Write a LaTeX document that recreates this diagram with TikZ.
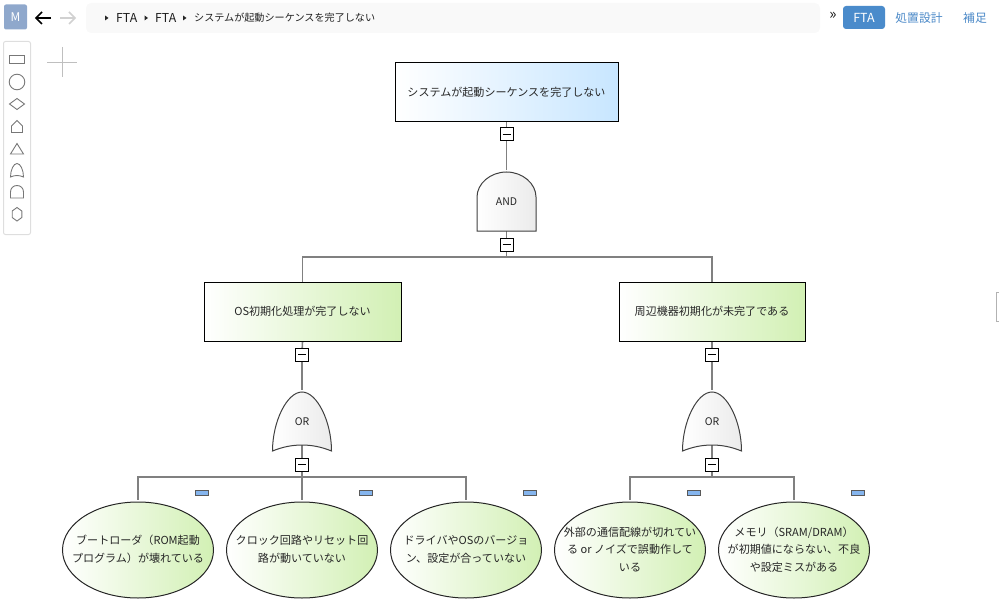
\documentclass[tikz,border=0pt]{standalone}
\usepackage{fontspec}
\setmainfont{Noto Sans CJK JP}
\usetikzlibrary{shapes.geometric,backgrounds,calc}
\definecolor{edgegray}{HTML}{808080}
\definecolor{blueend}{HTML}{C8E6FF}
\definecolor{greenend}{HTML}{D2F0B4}
\definecolor{gateend}{HTML}{EBEBEB}
\definecolor{tabblue}{HTML}{4A8BCB}
\definecolor{linkblue}{HTML}{4A88C7}
\definecolor{tagblue}{HTML}{85B5EE}
\definecolor{iconedge}{HTML}{777777}
\definecolor{avatarblue}{HTML}{8FA8CC}
\tikzset{
  x=1pt,y=-1pt,
  difftext/.style={font=\fontsize{11.05}{17.5}\selectfont,text=black!85,inner sep=0pt},
  topbox/.style={difftext,rectangle,draw=black,line width=1pt,left color=white,right color=blueend,minimum width=223,minimum height=59},
  midbox/.style={difftext,rectangle,draw=black,line width=1pt,left color=white,right color=greenend,minimum height=59},
  leaf/.style={difftext,ellipse,draw=black!85,line width=1pt,left color=white,right color=greenend,minimum width=151,minimum height=96},
  gatelabel/.style={font=\fontsize{10.5}{12}\selectfont,text=black!85,inner sep=0pt,minimum width=59,minimum height=59},
  gateline/.style={draw=black!75,line width=1pt,left color=white,right color=gateend},
  toggle/.style={rectangle,draw=black,line width=1pt,fill=white,minimum size=13,inner sep=0pt,
    path picture={\draw[black,line width=1pt] ($(path picture bounding box.west)+(2.5,0)$) -- ($(path picture bounding box.east)+(-2.5,0)$);}},
  tag/.style={rectangle,draw=black!65,line width=1pt,fill=tagblue,minimum width=13,minimum height=5,inner sep=0pt},
  edge/.style={draw=edgegray,line width=1.6pt},
  icon/.style={draw=iconedge,line width=.9pt},
  crumb/.style={font=\fontsize{12.3}{13}\selectfont,text=black!88,inner sep=0pt,anchor=west},
  tip/.style={fill=black!85,draw=none},
  navlink/.style={font=\fontsize{11.8}{13}\selectfont,text=linkblue,inner sep=0pt},
}
\newcommand{\leaftext}[1]{\hbox to 0pt{\hss\begin{tabular}{@{}c@{}}#1\end{tabular}\hss}}
\newcommand{\andshape}[2]{\path[gateline,shift={(#1,#2)}] (-29.5,29.5) -- (-29.5,-4.5) .. controls (-29.5,-18) and (-16,-29.5) .. (0,-29.5) .. controls (16,-29.5) and (29.5,-18) .. (29.5,-4.5) -- (29.5,29.5) -- cycle;}
\newcommand{\orshape}[2]{\path[gateline,shift={(#1,#2)}] (-29.5,29.5) .. controls (-29.5,0) and (-15,-29.5) .. (0,-29.5) .. controls (15,-29.5) and (29.5,0) .. (29.5,29.5) .. controls (10,21.5) and (-10,21.5) .. (-29.5,29.5) -- cycle;}
\begin{document}
\begin{tikzpicture}
\useasboundingbox (0,0) rectangle (999,607);

% header
\fill[black!2.5,rounded corners=5pt] (86,3) rectangle (820,33);
\node[rectangle,fill=avatarblue,rounded corners=2pt,minimum width=23,minimum height=25,inner sep=0pt,text=white,font=\fontsize{12}{13}\selectfont] (avatar) at (15.5,17) {M};
\draw[black,line width=1.7pt] (51,18) -- (36,18);
\draw[black,line width=1.7pt] (42,12) -- (36,18) -- (42,24);
\draw[black!18,line width=1.7pt] (60,18) -- (75,18);
\draw[black!18,line width=1.7pt] (69,12) -- (75,18) -- (69,24);
\fill[tip] (105,15.5) -- (108.5,18) -- (105,20.5) -- cycle;
\node[crumb] (c1) at (116,18) {FTA};
\fill[tip] (144.5,15.5) -- (148,18) -- (144.5,20.5) -- cycle;
\node[crumb] (c2) at (155,18) {FTA};
\fill[tip] (183,15.5) -- (186.5,18) -- (183,20.5) -- cycle;
\node[crumb,font=\fontsize{10.1}{13}\selectfont] (c3) at (194,18) {システムが起動シーケンスを完了しない};
\node[inner sep=0pt,font=\fontsize{15}{15}\selectfont,text=black!90] (more) at (833,15.5) {»};
\node[rectangle,fill=tabblue,rounded corners=3pt,minimum width=42,minimum height=23,inner sep=0pt,text=white,font=\fontsize{12.5}{13}\selectfont] (tabfta) at (864,17.5) {FTA};
\node[navlink] (tabdesign) at (919,18) {処置設計};
\node[navlink] (tabextra) at (975,18) {補足};

% palette
\draw[black!13,line width=1pt,rounded corners=2pt] (3.5,41.5) rectangle (30.5,234.5);
\draw[icon] (9.5,55.5) rectangle (24.5,63);
\draw[icon] (17,82) circle (7.8);
\draw[icon] (9.5,104) -- (17,98.5) -- (24.5,104) -- (17,109.5) -- cycle;
\draw[icon] (11.5,132.5) -- (11.5,126) -- (17,120.5) -- (22.5,126) -- (22.5,132.5) -- cycle;
\draw[icon] (10.5,154) -- (17,143.5) -- (23.5,154) -- cycle;
\draw[icon] (10.5,177) .. controls (10.5,170) and (13.5,163.5) .. (17,163.5) .. controls (20.5,163.5) and (23.5,170) .. (23.5,177) .. controls (19,175) and (15,175) .. (10.5,177) -- cycle;
\draw[icon] (10.5,198) -- (10.5,192) .. controls (10.5,188) and (13.5,185.5) .. (17,185.5) .. controls (20.5,185.5) and (23.5,188) .. (23.5,192) -- (23.5,198) -- cycle;
\draw[icon] (17,207.5) -- (21.8,211) -- (21.8,217.5) -- (17,221) -- (12.2,217.5) -- (12.2,211) -- cycle;
\draw[black!25,line width=.8pt] (47,62) -- (77,62);
\draw[black!25,line width=.8pt] (62,47) -- (62,77);
\draw[black!30,line width=1pt] (999,292.5) -- (996.5,292.5) -- (996.5,321.5) -- (999,321.5);

% nodes
\node[topbox] (top) at (506.5,92) {システムが起動シーケンスを完了しない};
\node[midbox,minimum width=197] (osinit) at (302.5,311.5) {OS初期化処理が完了しない};
\node[midbox,minimum width=186] (periph) at (712,311.5) {周辺機器初期化が未完了である};

\andshape{506.5}{201.5}
\node[gatelabel] (andgate) at (506.5,201.5) {AND};
\orshape{302}{421.5}
\node[gatelabel] (orleft) at (302,421.5) {OR};
\orshape{712}{421.5}
\node[gatelabel] (orright) at (712,421.5) {OR};

\node[toggle] (t1) at (506.5,134.5) {};
\node[toggle] (t2) at (506.5,244.5) {};
\node[toggle] (t3) at (302,354.5) {};
\node[toggle] (t4) at (302,464.5) {};
\node[toggle] (t5) at (712,354.5) {};
\node[toggle] (t6) at (712,464.5) {};

\node[leaf] (e1) at (138,550) {\leaftext{ブートローダ（ROM起動\\プログラム）が壊れている}};
\node[leaf] (e2) at (302,550) {\leaftext{クロック回路やリセット回\\路が動いていない}};
\node[leaf] (e3) at (466,550) {\leaftext{ドライバやOSのバージョ\\ン、設定が合っていない}};
\node[leaf] (e4) at (630,550) {\leaftext{外部の通信配線が切れてい\\る or ノイズで誤動作して\\いる}};
\node[leaf] (e5) at (794,550) {\leaftext{メモリ（SRAM/DRAM）\\が初期値にならない、不良\\や設定ミスがある}};

\node[tag] (m1) at (201.5,492.8) {};
\node[tag] (m2) at (365.5,492.8) {};
\node[tag] (m3) at (529.5,492.8) {};
\node[tag] (m4) at (693.5,492.8) {};
\node[tag] (m5) at (857.5,492.8) {};

\coordinate (bus0) at (506.5,257);
\coordinate (busl) at (302,477);
\coordinate (busr) at (712,477);

% connectors
\begin{scope}[on background layer]
\draw[edge] (top.south) -- (t1.center);
\draw[edge] (t1.center) -- ($(andgate.north)+(0,-1.5)$);
\draw[edge] (andgate.south) -- (bus0);
\draw[edge] (bus0) -| (osinit.north);
\draw[edge] (bus0) -| (periph.north);
\draw[edge] (osinit.south) -- (t3.center);
\draw[edge] (t3.center) -- ($(orleft.north)+(0,-1.5)$);
\draw[edge] (periph.south) -- (t5.center);
\draw[edge] (t5.center) -- ($(orright.north)+(0,-1.5)$);
\draw[edge] ($(orleft.south)+(0,-6)$) -- (busl);
\draw[edge] ($(orright.south)+(0,-6)$) -- (busr);
\draw[edge] (busl) -| ($(e1.north)+(0,-1.5)$);
\draw[edge] (busl) -- ($(e2.north)+(0,-1.5)$);
\draw[edge] (busl) -| ($(e3.north)+(0,-1.5)$);
\draw[edge] (busr) -| ($(e4.north)+(0,-1.5)$);
\draw[edge] (busr) -| ($(e5.north)+(0,-1.5)$);
\end{scope}
\end{tikzpicture}
\end{document}
